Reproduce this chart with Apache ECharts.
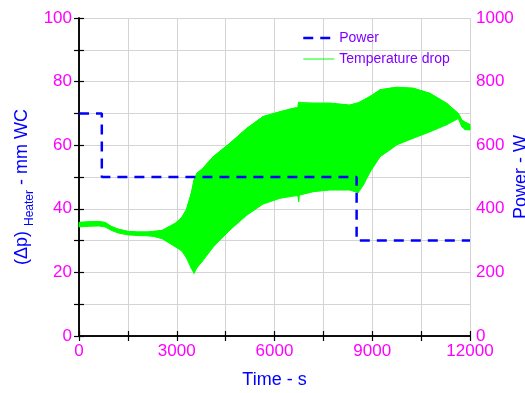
<!DOCTYPE html>
<html>
<head>
<meta charset="utf-8">
<script src="https://cdn.jsdelivr.net/npm/echarts@6/dist/echarts.min.js"></script>
<style>
  html, body { margin: 0; padding: 0; background: #fff; }
  #chart { width: 525px; height: 393px; }
</style>
</head>
<body>
<div id="chart"></div>
<script>
// Heater pressure drop (band = oscillation envelope) and heater power vs time
const timeS = [0, 300, 600, 800, 1000, 1200, 1500, 1800, 2100, 2300, 2550, 2950, 3150, 3300, 3450, 3530,
  3620, 3780, 4120, 4630, 5150, 5650, 6170, 6580, 6720, 6740, 6760, 7200, 7700, 8300, 8570, 8730,
  8930, 9240, 9540, 9750, 10260, 10770, 11280, 11640, 11750, 11850, 12000];
const dropLow = [34.3, 34.5, 34.6, 34.3, 33.2, 32.4, 31.8, 31.6, 31.5, 31.3, 30.6, 28.1, 26.8, 24.5, 21.2, 19.7,
  21.5, 23.4, 28.0, 33.3, 38.0, 41.5, 43.3, 44.0, 44.1, 42.2, 44.3, 45.4, 45.9, 45.9, 45.1, 47.5,
  51.5, 56.4, 58.5, 60.1, 62.2, 64.2, 66.4, 68.4, 65.8, 64.9, 64.8];
const dropHigh = [35.7, 35.9, 36.0, 35.7, 34.4, 33.6, 32.9, 32.7, 32.7, 32.9, 33.2, 35.4, 37.2, 39.8, 45.0, 49.0,
  51.2, 52.5, 56.4, 60.6, 65.3, 69.0, 70.5, 71.6, 71.8, 73.5, 73.2, 73.2, 73.2, 72.6, 73.3, 74.2,
  75.3, 77.4, 77.9, 78.2, 77.9, 76.3, 73.2, 70.0, 67.9, 67.2, 66.5];

const powerTime = [0, 700, 8520, 12000];
const powerW = [700, 500, 300, 300];

const xTicks = [0, 3000, 6000, 9000, 12000];
const leftTicks = [0, 20, 40, 60, 80, 100];
const rightTicks = [0, 200, 400, 600, 800, 1000];

const FONT = 'Liberation Sans, Arial, sans-serif';
const MAGENTA = '#ff00ff';
const BLUE = '#0000ff';
const GREEN = '#00ff00';

// one band segment per pair of neighbouring samples: [t0, low0, high0, t1, low1, high1]
const bandSegments = timeS.slice(0, -1).map((t, i) =>
  [t, dropLow[i], dropHigh[i], timeS[i + 1], dropLow[i + 1], dropHigh[i + 1]]);
const highData = timeS.map((t, i) => [t, dropHigh[i]]);
const powerData = powerTime.map((t, i) => [t, powerW[i]]);

const axisLine = { show: true, lineStyle: { color: '#000', width: 1.5 } };
const tick = { show: true, inside: true, length: 5, lineStyle: { color: '#000', width: 1.2 } };
const grid = { show: true, lineStyle: { color: '#d4d4d4', width: 1 } };
const label = (ticks, margin) => ({
  show: true, color: MAGENTA, fontSize: 17, fontFamily: FONT, margin,
  formatter: v => (ticks.indexOf(v) >= 0 ? String(v) : '')
});

const chart = echarts.init(document.getElementById('chart'), null, { renderer: 'canvas' });
chart.setOption({
  animation: false,
  backgroundColor: '#fff',
  grid: { left: 79, right: 55, top: 18, bottom: 57, containLabel: false, outerBoundsMode: 'none' },
  legend: {
    orient: 'vertical', left: 297, top: 26, itemWidth: 31, itemHeight: 14, itemGap: 7,
    data: [
      { name: 'Power', lineStyle: { width: 2.5 } },
      { name: 'Temperature drop', lineStyle: { width: 1 } }
    ],
    itemStyle: { opacity: 0 },
    lineStyle: { width: 'inherit' },
    textStyle: { color: '#8000ff', fontSize: 14, fontFamily: FONT }
  },
  xAxis: [{
    type: 'value', position: 'bottom', min: 0, max: 12000, interval: 1500,
    axisLine, axisTick: tick, splitLine: grid, axisLabel: label(xTicks, 7),
    name: 'Time - s', nameLocation: 'middle', nameGap: 35, nameMoveOverlap: false,
    nameTextStyle: { color: BLUE, fontSize: 18, fontFamily: FONT }
  }, {
    type: 'value', position: 'top', min: 0, max: 12000, interval: 1500,
    axisLine, axisTick: tick, splitLine: { show: false }, axisLabel: { show: false }
  }],
  yAxis: [{
    type: 'value', position: 'left', min: 0, max: 100, interval: 10,
    axisLine, axisTick: tick, splitLine: grid, axisLabel: label(leftTicks, 7),
    name: '(Δp) {sub|Heater} - mm WC', nameLocation: 'middle', nameGap: 43, nameMoveOverlap: false,
    nameTextStyle: {
      color: BLUE, fontSize: 18, fontFamily: FONT, padding: [0, 20, 0, 0],
      rich: { sub: { color: BLUE, fontSize: 12, fontFamily: FONT, padding: [16, 0, 0, 0] } }
    }
  }, {
    type: 'value', position: 'right', min: 0, max: 1000, interval: 100,
    axisLine, axisTick: tick, splitLine: { show: false }, axisLabel: label(rightTicks, 6),
    name: 'Power - W', nameLocation: 'middle', nameGap: 42, nameRotate: 90, nameMoveOverlap: false,
    nameTextStyle: { color: BLUE, fontSize: 18, fontFamily: FONT }
  }],
  series: [{
    name: 'dropBand', type: 'custom', xAxisIndex: 0, yAxisIndex: 0,
    data: bandSegments, encode: { x: [0, 3], y: [1, 2, 4, 5] }, z: 2,
    renderItem: (params, api) => {
      const a = api.coord([api.value(0), api.value(2)]);
      const b = api.coord([api.value(3), api.value(5)]);
      const c = api.coord([api.value(3), api.value(4)]);
      const d = api.coord([api.value(0), api.value(1)]);
      return {
        type: 'polygon',
        shape: { points: [a, b, c, d] },
        style: { fill: GREEN, stroke: GREEN, lineWidth: 1 }
      };
    }
  }, {
    name: 'Temperature drop', type: 'line', xAxisIndex: 0, yAxisIndex: 0,
    data: highData, showSymbol: false, symbol: 'none', color: GREEN,
    lineStyle: { color: GREEN, width: 1 }, z: 2
  }, {
    name: 'Power', type: 'line', xAxisIndex: 0, yAxisIndex: 1, step: 'end',
    data: powerData, showSymbol: false, symbol: 'none', color: BLUE,
    lineStyle: { color: BLUE, width: 2.5, type: [10, 7] }, z: 3
  }]
});
</script>
</body>
</html>
